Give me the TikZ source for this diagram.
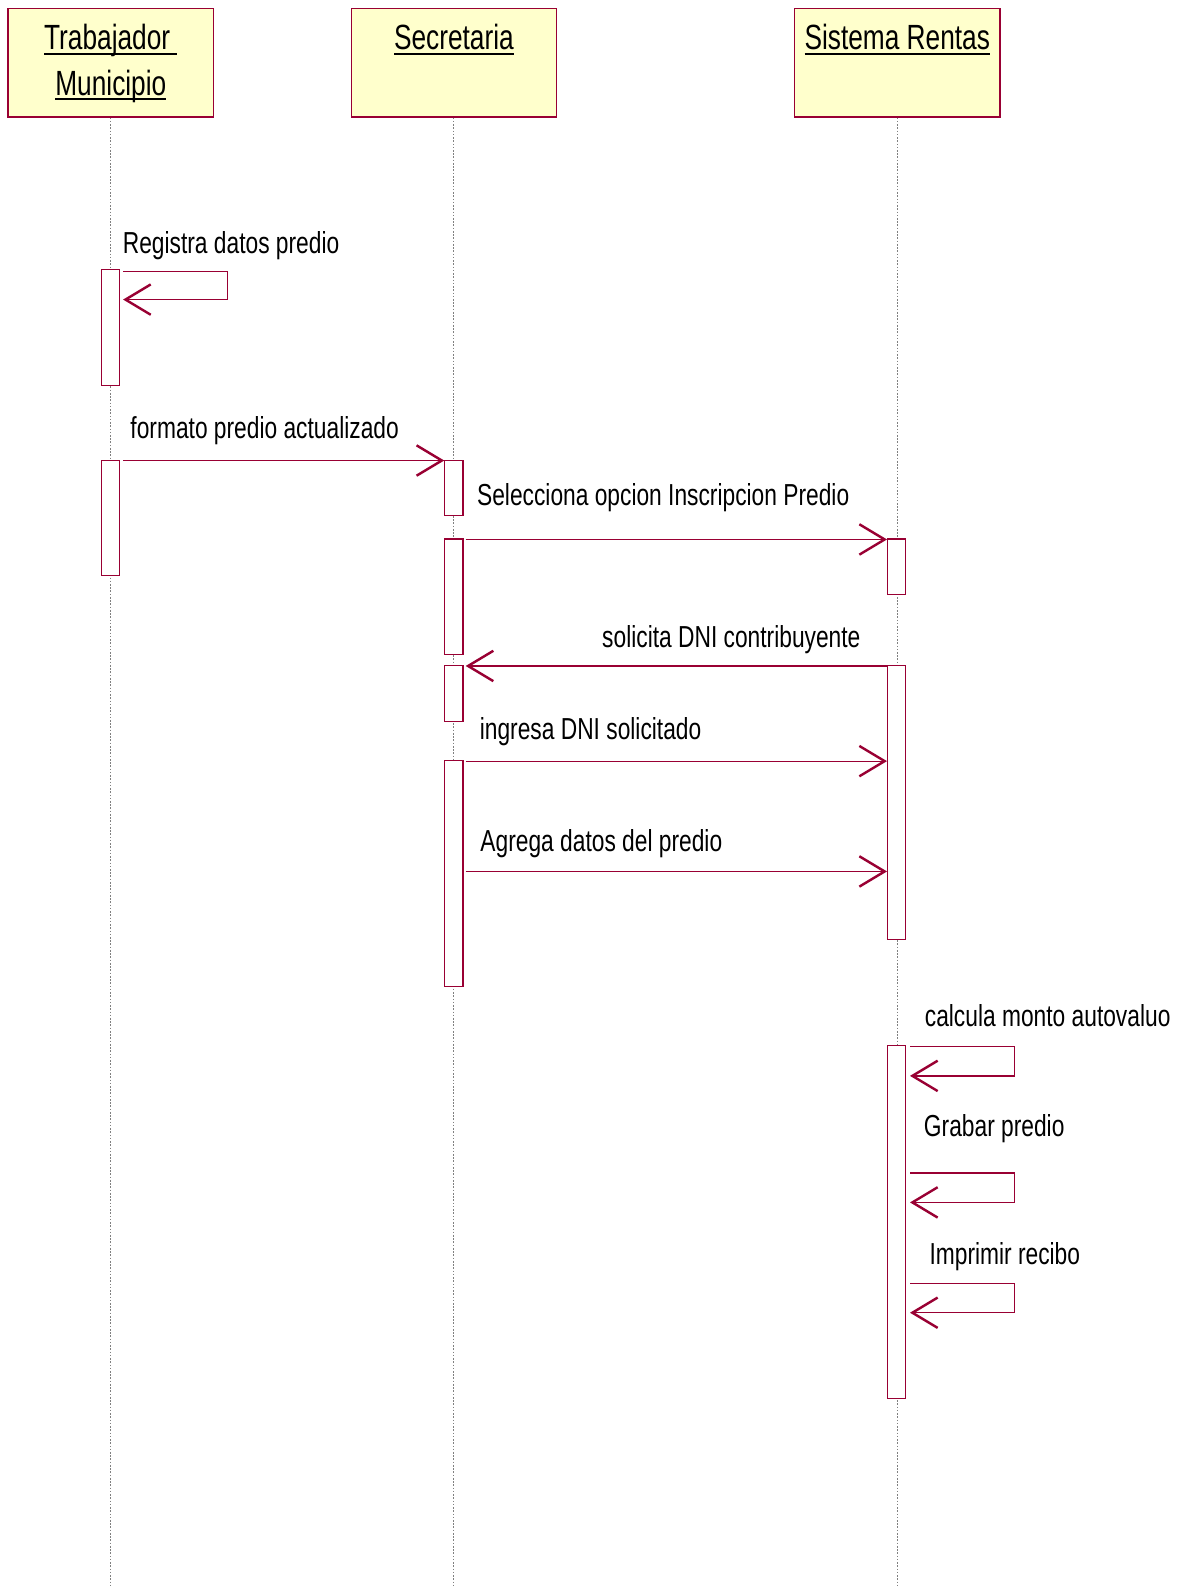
\documentclass[tikz,border=0pt]{standalone}
\usepackage{fontspec}
\setmainfont{Liberation Sans}[FakeStretch=0.75]
\usepackage{tikz}
\usetikzlibrary{arrows.meta,positioning,calc}
\definecolor{umlred}{RGB}{153,0,51}
\definecolor{umlyellow}{RGB}{255,255,204}
\newcommand{\ulname}[1]{\setbox0=\hbox{#1}\rlap{\rule[-2.4pt]{\wd0}{1.1pt}}\box0}

\begin{document}
\begin{tikzpicture}[
    x=0.5pt, y=-0.5pt,
    every node/.style={inner sep=0pt},
    actorbox/.style={rectangle, draw=umlred, fill=umlyellow, minimum width=101.5pt, minimum height=53.5pt, line width=0.6pt, anchor=north},
    actorname/.style={anchor=base, font=\fontsize{17.3}{22.3}\selectfont},
    actbar/.style={rectangle, draw=umlred, fill=white, minimum width=9pt, line width=0.6pt, anchor=north},
    lifeline/.style={draw=gray, line width=0.5pt, dash pattern=on 0.8pt off 0.8pt},
    msg/.style={draw=umlred, line width=0.6pt, -{Straight Barb[length=12.5pt, width=15pt, line width=1.2pt]}},
    msglabel/.style={anchor=base west, font=\fontsize{15}{18}\selectfont}
]
\useasboundingbox (0,0) rectangle (1174,1568);

% actors
\node[actorbox] (trab) at (109.5,8) {};
\node[actorbox] (secr) at (448.5,8) {};
\node[actorbox] (rent) at (886.5,8) {};
\node[actorname] (trabname) at (109.5,49.4) {\ulname{Trabajador\ }};
\node[actorname] (trabname2) at (109.5,93.9) {\ulname{Municipio}};
\node[actorname] (secrname) at (448.5,49.4) {\ulname{Secretaria}};
\node[actorname] (rentname) at (886.5,49.4) {\ulname{Sistema Rentas}};

% lifelines
\coordinate (bottom) at (0,1568);
\draw[lifeline] (trab.south) -- (trab.south |- bottom);
\draw[lifeline] (secr.south) -- (secr.south |- bottom);
\draw[lifeline] (rent.south) -- (rent.south |- bottom);

% activations
\node[actbar, minimum height=57pt] (t1) at (109,266) {};
\node[actbar, minimum height=57pt] (t2) at (109,454) {};
\node[actbar, minimum height=27.5pt] (s1) at (448.5,454) {};
\node[actbar, minimum height=57pt] (s2) at (448.5,532) {};
\node[actbar, minimum height=27.5pt] (s3) at (448.5,657) {};
\node[actbar, minimum height=111.5pt] (s4) at (448.5,751) {};
\node[actbar, minimum height=27.5pt] (r1) at (886,532) {};
\node[actbar, minimum height=135.5pt] (r2) at (886,657) {};
\node[actbar, minimum height=174.5pt] (r3) at (886,1032) {};

% messages
\draw[msg] ([shift={(3,2)}]t1.north east) -- ++(103,0) -- ++(0,28) -- ++(-103,0);
\node[msglabel] (m1) at (121,250) {Registra datos predio};

\draw[msg] ([shift={(3,1)}]t2.north east) -- ([shift={(0,1)}]s1.north west);
\node[msglabel] (m2) at (128.5,433) {formato predio actualizado};

\draw[msg] ([shift={(2,1)}]s2.north east) -- ([shift={(0,1)}]r1.north west);
\node[msglabel] (m3) at (471,499) {Selecciona opcion Inscripcion Predio};

\draw[msg] ([shift={(0,1)}]r2.north west) -- ([shift={(2,1)}]s3.north east);
\node[msglabel] (m4) at (594.6,640) {solicita DNI contribuyente};

\coordinate (p5) at ([shift={(2,1)}]s4.north east);
\draw[msg] (p5) -- (p5 -| r2.west);
\node[msglabel] (m5) at (473.7,730.6) {ingresa DNI solicitado};

\coordinate (p6) at ([shift={(2,110)}]s4.north east);
\draw[msg] (p6) -- (p6 -| r2.west);
\node[msglabel] (m6) at (474.3,841.7) {Agrega datos del predio};

\draw[msg] ([shift={(3.5,2)}]r3.north east) -- ++(103,0) -- ++(0,29) -- ++(-103,0);
\node[msglabel] (m7) at (913.4,1014.6) {calcula monto autovaluo};

\draw[msg] ([shift={(3.5,127)}]r3.north east) -- ++(103,0) -- ++(0,29) -- ++(-103,0);
\node[msglabel] (m8) at (912.5,1123.3) {Grabar predio};

\draw[msg] ([shift={(3.5,236)}]r3.north east) -- ++(103,0) -- ++(0,29) -- ++(-103,0);
\node[msglabel] (m9) at (918,1249.4) {Imprimir recibo};

\end{tikzpicture}
\end{document}
